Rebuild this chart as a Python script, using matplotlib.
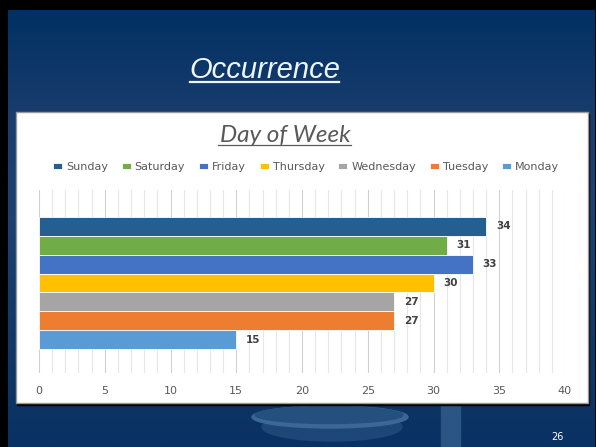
import numpy as np
import matplotlib.pyplot as plt
from matplotlib.patches import Rectangle, Ellipse
from matplotlib.colors import LinearSegmentedColormap
from matplotlib.lines import Line2D

# data
days = ["Sunday", "Saturday", "Friday", "Thursday", "Wednesday", "Tuesday", "Monday"]
counts = [34, 31, 33, 30, 27, 27, 15]
colors = ["#255E91", "#70AD47", "#4472C4", "#FFC000", "#A5A5A5", "#ED7D31", "#5B9BD5"]
x_ticks = [0, 5, 10, 15, 20, 25, 30, 35, 40]

W, H = 596, 447
fig = plt.figure(figsize=(W / 100, H / 100), dpi=100)

# background layer in pixel coordinates
bg = fig.add_axes([0, 0, 1, 1])
bg.set_xlim(0, W)
bg.set_ylim(H, 0)
bg.axis("off")
bg.add_patch(Rectangle((0, 0), W, H, color="black", zorder=0))

grad = LinearSegmentedColormap.from_list(
    "slide", [(0, "#013063"), (0.25, "#1a3d6d"), (0.45, "#1d4172"),
              (0.85, "#0e3666"), (1, "#0a3163")])
g = np.linspace(0, 1, 256).reshape(-1, 1)
bg.imshow(g, cmap=grad, extent=[8, 595, H, 10], aspect="auto", zorder=1)

# decorative dish and column under the chart box
bg.add_patch(Ellipse((332, 427), 140, 28, color="#1d4777", zorder=2))
bg.add_patch(Ellipse((330, 417), 156, 22, color="#3b6897", zorder=2))
bg.add_patch(Ellipse((329, 415), 148, 17, color="#24507f", zorder=2))
bg.add_patch(Rectangle((441, 403), 19, 44, color="#2b5585", zorder=2))

# slide title with underline
bg.text(265, 78, "Occurrence", fontsize=21, style="italic", color="#eef6ff",
        family="Liberation Sans", ha="center", va="baseline", zorder=3)
bg.add_line(Line2D([190, 339], [81.5, 81.5], color="#eef6ff", lw=1.6, zorder=3))

# chart box with shadow
bg.add_patch(Rectangle((17, 114), 572, 291, color="black", zorder=3))
bg.add_patch(Rectangle((16, 112), 572, 291, facecolor="white",
                       edgecolor="#9a9a9a", lw=1, zorder=4))

# chart title
bg.text(285, 142, "Day of Week", fontsize=17.5, style="italic", color="#595959",
        family="Lato", ha="center", va="baseline", zorder=5)
bg.add_line(Line2D([218, 351], [144.5, 144.5], color="#595959", lw=0.9, zorder=5))

bg.text(557, 440, "26", fontsize=7, color="white", ha="center", va="baseline", zorder=5)

# the bar chart
ax = fig.add_axes([39 / W, 1 - 373 / H, (565 - 39) / W, (373 - 190) / H], zorder=6)
ax.patch.set_alpha(0)
for i, (day, val, col) in enumerate(zip(days, counts, colors)):
    ax.barh(i, val, height=1.0, color=col, edgecolor="white", linewidth=0.6,
            label=day, zorder=3)
    ax.annotate(str(val), (val, i), xytext=(7, 0), textcoords="offset points",
                va="center", ha="left", fontsize=7.5, fontweight="bold",
                color="#404040")

ax.set_xlim(0, 40)
ax.set_ylim(7.77, -1.93)
ax.set_xticks(x_ticks)
ax.set_xticks(np.arange(0, 41, 1), minor=True)
ax.set_yticks([])
ax.grid(axis="x", which="major", color="#d0d0d0", lw=0.8, zorder=0)
ax.grid(axis="x", which="minor", color="#e6e6e6", lw=0.8, zorder=0)
ax.tick_params(axis="x", which="both", length=0, pad=9, labelsize=8, labelcolor="#595959")
for s in ax.spines.values():
    s.set_visible(False)

fig.legend(loc="center", bbox_to_anchor=(306 / W, 1 - 167 / H), ncol=7, frameon=False,
           handlelength=0.8, handleheight=0.45, handletextpad=0.35, columnspacing=1.25,
           fontsize=8, labelcolor="#595959")

fig.savefig("out.png", dpi=100)
